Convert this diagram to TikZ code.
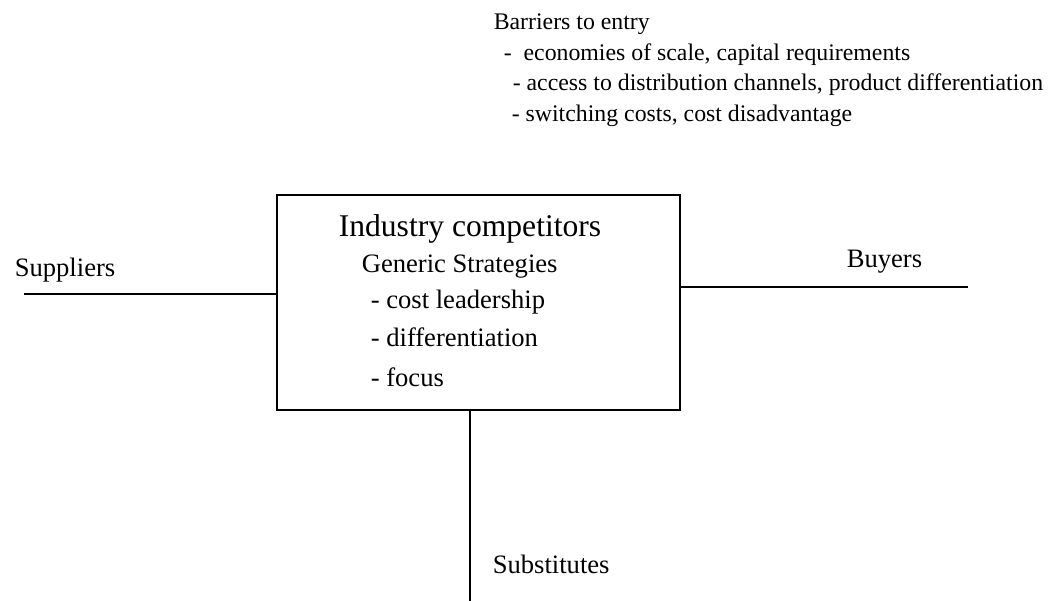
\documentclass[tikz,border=0pt]{standalone}
\usepackage{fontspec}
\setmainfont{Liberation Serif}
\usepackage{tikz}
\usetikzlibrary{positioning,calc}
\newcommand{\toptext}{\fontsize{23.8}{30}\selectfont}
\newcommand{\boxtext}{\fontsize{26.6}{32}\selectfont}
\newcommand{\titletext}{\fontsize{31.6}{36}\selectfont}

\begin{document}
\begin{tikzpicture}[x=1pt, y=-1pt, line width=1.6pt,
	  lbl/.style={anchor=base west, inner sep=0pt, font=\boxtext},
	  bar/.style={anchor=base west, inner sep=0pt, font=\toptext}]
	  \useasboundingbox (0,0) rectangle (1057,601);
	  \node (comp) [draw, minimum width=403pt, minimum height=215pt, inner sep=0pt] at (478.5,302.5) {};
	  \node (title) [lbl, font=\titletext] at (338,237) {Industry competitors};
	  \node (gen) [lbl] at (361,273) {Generic Strategies};
	  \node (cost) [lbl] at (370,309) {- cost leadership};
	  \node (diff) [lbl] at (370,347) {- differentiation};
	  \node (foc) [lbl] at (370,386) {- focus};
	  \node (barr) [bar] at (493,30) {Barriers to entry};
	  \node (econ) [bar] at (503,61) {-\ \ economies of scale, capital requirements};
	  \node (acc) [bar] at (512,91) {- access to distribution channels, product differentiation};
	  \node (sw) [bar] at (511,122) {- switching costs, cost disadvantage};
	  \node (supl) [lbl] at (14,277) {Suppliers};
	  \node (buyl) [lbl] at (846,268) {Buyers};
	  \node (subl) [lbl] at (492,573) {Substitutes};
	  \coordinate (sup) at (24,294);
	  \coordinate (buy) at (968,287);
	  \coordinate (sub) at (470,601);
	  \draw (sup) -- (sup -| comp.west);
	  \draw (comp.east |- buy) -- (buy);
	  \draw (sub |- comp.south) -- (sub);
	\end{tikzpicture}
\end{document}
